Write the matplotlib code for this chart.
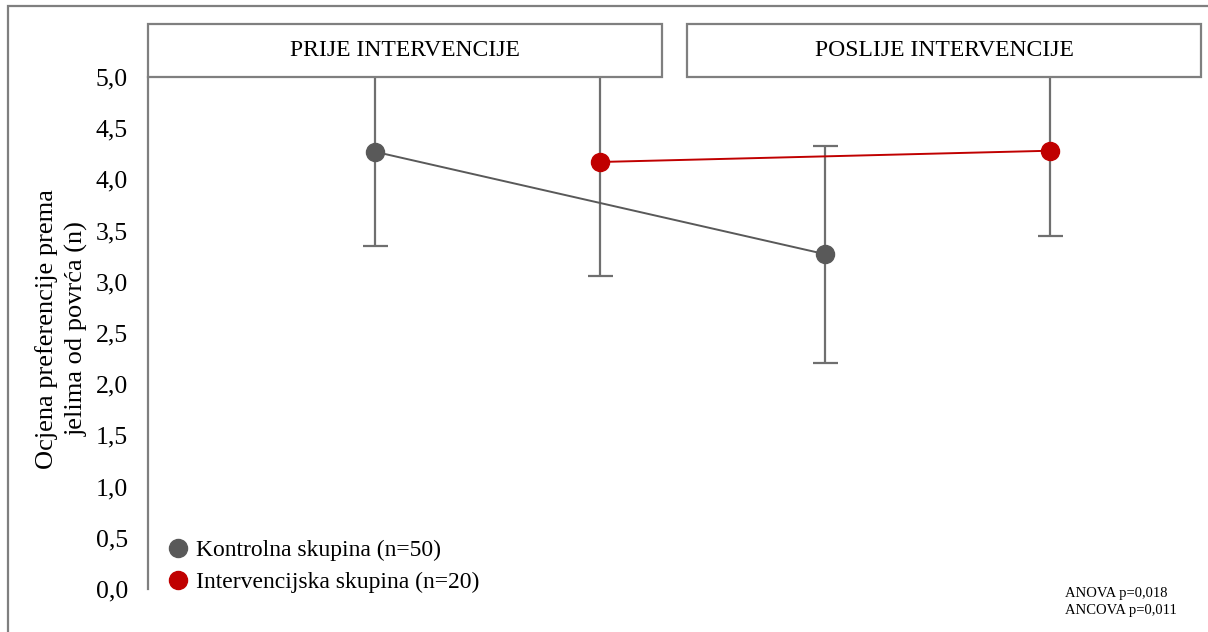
import matplotlib
matplotlib.use("Agg")
import matplotlib.pyplot as plt
from matplotlib.patches import Rectangle
from matplotlib.lines import Line2D

plt.rcParams['font.family'] = ['Liberation Serif', 'DejaVu Serif']

phases = ["PRIJE INTERVENCIJE", "POSLIJE INTERVENCIJE"]
groups = ["Kontrolna skupina (n=50)", "Intervencijska skupina (n=20)"]
control_mean = [4.27, 3.27]
control_sd = [0.92, 1.06]
interv_mean = [4.17, 4.28]
interv_sd = [1.11, 0.83]
yticks = [0.0, 0.5, 1.0, 1.5, 2.0, 2.5, 3.0, 3.5, 4.0, 4.5, 5.0]
stats_note = "ANOVA p=0,018\nANCOVA p=0,011"

grey = "#595959"
red = "#C00000"
edge = "#7f7f7f"

fig = plt.figure(figsize=(12.08, 6.32), dpi=100)
ax = fig.add_axes([148 / 1208, 1 - 589 / 632, 1053 / 1208, 512 / 632])

xc = [2 * i + 1 for i in range(len(phases))]
xi = [2 * i + 2 for i in range(len(phases))]

ax.errorbar(xc, control_mean, yerr=control_sd, fmt="none", ecolor="#6f6f6f",
            elinewidth=1.6, capsize=9, capthick=1.6, zorder=2)
ax.errorbar(xi, interv_mean, yerr=interv_sd, fmt="none", ecolor="#6f6f6f",
            elinewidth=1.6, capsize=9, capthick=1.6, zorder=2)
ax.plot(xc, control_mean, color=grey, lw=1.4, zorder=3)
ax.plot(xi, interv_mean, color=red, lw=1.4, zorder=3)
ax.plot(xc, control_mean, "o", color=grey, ms=13, zorder=4)
ax.plot(xi, interv_mean, "o", color=red, ms=13, zorder=4)

ax.set_xlim(1 - 227 / 225, 4 + 151 / 225)
ax.set_ylim(0, 5)
ax.set_xticks([])
ax.set_yticks(yticks)
ax.set_yticklabels([f"{v:.1f}".replace(".", ",") for v in yticks], fontsize=18.5)
ax.tick_params(axis="y", length=0, pad=14.5)
for s in ["top", "right", "bottom"]:
    ax.spines[s].set_visible(False)
ax.spines["left"].set_color(edge)
ax.spines["left"].set_linewidth(1.6)

# header boxes above the plot
box_h = 53 / 102.4
box_x = [(1 - 227 / 225, 1 + 287 / 225), (1 + 312 / 225, 4 + 151 / 225)]
for (x0, x1), name in zip(box_x, phases):
    ax.add_patch(Rectangle((x0, 5.0), x1 - x0, box_h, facecolor="white",
                           edgecolor=edge, lw=1.6, clip_on=False, zorder=5))
    ax.text((x0 + x1) / 2, 5.0 + box_h / 2, name, ha="center", va="center",
            fontsize=17, zorder=6, clip_on=False)

fig.text(62 / 1208, 1 - 329 / 632, "Ocjena preferencije prema\njelima od povrća (n)",
         rotation=90, ha="center", va="center", fontsize=19, linespacing=1.4)

handles = [Line2D([], [], marker="o", ls="none", color=grey, ms=13),
           Line2D([], [], marker="o", ls="none", color=red, ms=13)]
ax.legend(handles, groups, loc="lower left", bbox_to_anchor=(0.0, -0.04),
          frameon=False, fontsize=17, handletextpad=0.25, labelspacing=0.45,
          handlelength=1.1, borderaxespad=0.3)

fig.text(1065 / 1208, 1 - 602 / 632, stats_note, ha="left", va="center",
         fontsize=10.5, linespacing=1.35)

fig.patches.append(Rectangle((8 / 1208, -0.1), 1.1, 1.1 - 6 / 632, fill=False,
                             edgecolor=edge, lw=1.6, transform=fig.transFigure,
                             figure=fig))

fig.savefig("out.png", dpi=100)
